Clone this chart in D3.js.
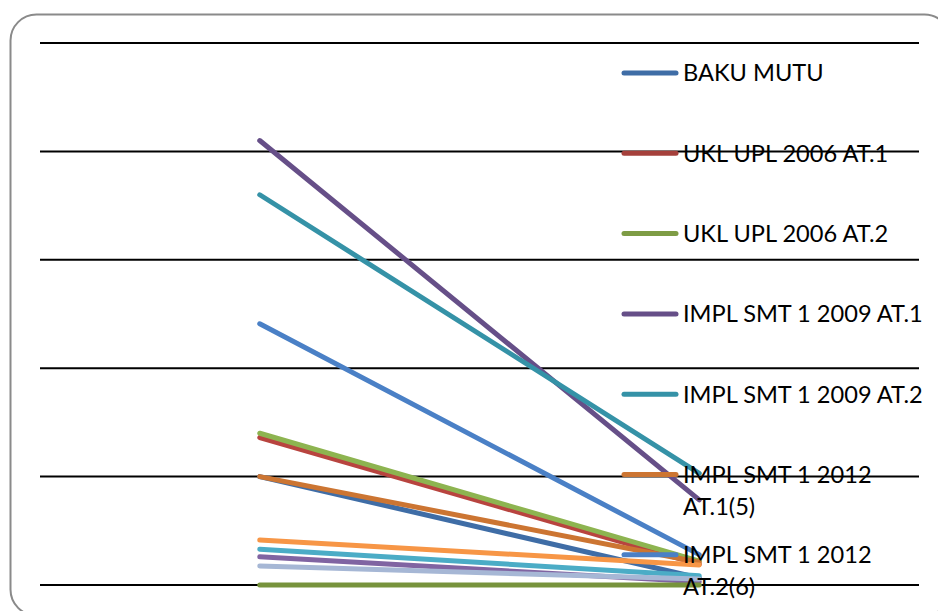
<!DOCTYPE html>
<html>
<head>
<meta charset="utf-8">
<script src="https://cdn.jsdelivr.net/npm/d3@7"></script>
<style>
  html, body { margin: 0; padding: 0; background: #fff; }
  svg { display: block; }
</style>
</head>
<body>
<svg id="chart" width="938" height="611"></svg>
<script>
// Two sampling points per series
const categories = ["Titik 1", "Titik 2"];

const seriesNames = [
  "BAKU MUTU",
  "UKL UPL 2006 AT.1",
  "UKL UPL 2006 AT.2",
  "IMPL SMT 1 2009 AT.1",
  "IMPL SMT 1 2009 AT.2",
  "IMPL SMT 1 2012 AT.1(5)",
  "IMPL SMT 1 2012 AT.2(6)",
  "IMPL SMT 2 2012 AT.1(5)",
  "IMPL SMT 2 2012 AT.2(6)",
  "IMPL SMT 1 2013 AT.1(5)",
  "IMPL SMT 1 2013 AT.2(6)",
  "IMPL SMT 2 2013 AT.1(5)"
];

const seriesValues = [
  [10.0, 0.65],
  [13.6, 1.9],
  [14.0, 2.2],
  [41.0, 7.85],
  [36.0, 10.3],
  [10.0, 2.1],
  [24.1, 2.8],
  [4.15, 1.85],
  [3.3, 0.85],
  [2.6, 0.3],
  [1.75, 0.55],
  [0.0, 0.0]
];

const seriesColors = [
  "#3F6DA6", "#B8443F", "#8DB450", "#664F88", "#3592A7", "#CC7532",
  "#4A80C6", "#F79646", "#4BACC6", "#8064A2", "#A6B7D5", "#77933C"
];

const legendColors = [
  "#3F6DA6", "#A5403B", "#7E9C45", "#664F88", "#3592A7", "#CC7532",
  "#4A80C6", "#F79646", "#4BACC6", "#8064A2", "#A6B7D5", "#77933C"
];

const yTicks = [0, 10, 20, 30, 40, 50];

const svg = d3.select("#chart");

const plot = { left: 40, right: 919, top: 43, bottom: 585 };

const x = d3.scalePoint().domain(categories).range([plot.left, plot.right]).padding(0.5);
const y = d3.scaleLinear().domain([0, 50]).range([plot.bottom, plot.top]);

// chart frame
svg.append("rect")
  .attr("x", 10.5).attr("y", 14.5)
  .attr("width", 940).attr("height", 601)
  .attr("rx", 26).attr("ry", 26)
  .attr("fill", "#fff")
  .attr("stroke", "#8a8a8a")
  .attr("stroke-width", 2);

// horizontal gridlines
svg.append("g")
  .selectAll("line")
  .data(yTicks)
  .join("line")
  .attr("x1", plot.left).attr("x2", plot.right)
  .attr("y1", d => y(d)).attr("y2", d => y(d))
  .attr("stroke", "#000")
  .attr("stroke-width", 2);

// series lines
const line = d3.line()
  .x((d, i) => x(categories[i]))
  .y(d => y(d));

svg.append("g")
  .selectAll("path")
  .data(seriesValues)
  .join("path")
  .attr("d", d => line(d))
  .attr("fill", "none")
  .attr("stroke", (d, i) => seriesColors[i])
  .attr("stroke-width", 5)
  .attr("stroke-linecap", "round")
  .attr("stroke-linejoin", "round");

// legend
const legend = svg.append("g");
const legendTop = 73, legendStep = 80.3, maxTextWidth = 245;
const fontSize = 23.6;

seriesNames.forEach((name, i) => {
  const cy = legendTop + i * legendStep;
  if (cy > 611) return;
  const g = legend.append("g");
  g.append("line")
    .attr("x1", 624).attr("x2", 676)
    .attr("y1", cy).attr("y2", cy)
    .attr("stroke", legendColors[i])
    .attr("stroke-width", 5)
    .attr("stroke-linecap", "round");
  const text = g.append("text")
    .attr("x", 683)
    .attr("y", cy)
    .attr("dy", "0.36em")
    .attr("font-family", "Lato, 'Open Sans', sans-serif")
    .attr("font-size", fontSize)
    .attr("fill", "#000");
  // word wrap
  const words = name.split(" ");
  let lineWords = [];
  let tspan = text.append("tspan").attr("x", 683);
  words.forEach(w => {
    lineWords.push(w);
    tspan.text(lineWords.join(" "));
    if (tspan.node().getComputedTextLength() > maxTextWidth && lineWords.length > 1) {
      lineWords.pop();
      tspan.text(lineWords.join(" "));
      lineWords = [w];
      tspan = text.append("tspan").attr("x", 683).attr("dy", 32).text(w);
    }
  });
});
</script>
</body>
</html>
